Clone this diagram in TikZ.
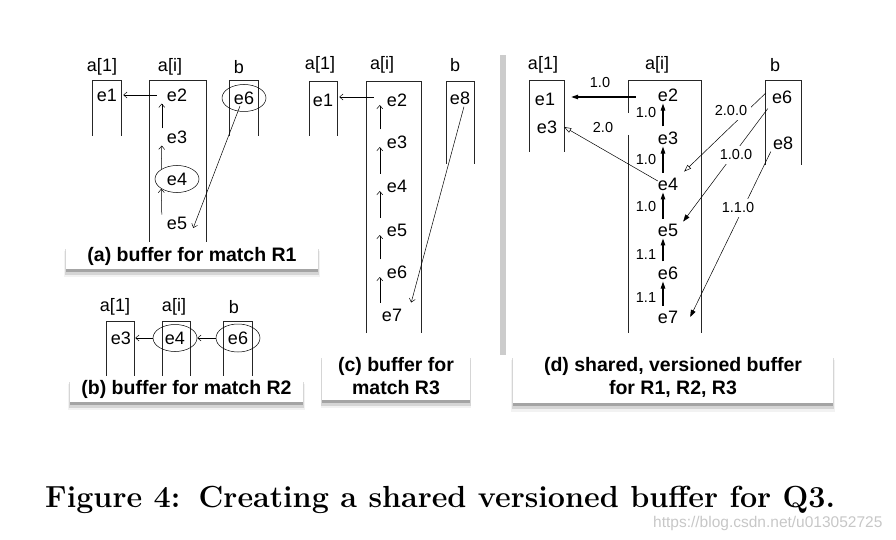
\documentclass[tikz,border=0pt]{standalone}
\usepackage{fontspec}
\newfontfamily\helv{Liberation Sans}
\newfontfamily\helvbold{Liberation Sans Bold}
\usetikzlibrary{arrows.meta,shapes.geometric,shadows}

\tikzset{
  lbl/.style={font=\fontsize{18}{20}\selectfont\helv, inner sep=2pt},
  ver/.style={font=\fontsize{14.5}{16}\selectfont\helv, inner sep=1pt},
  ring/.style={lbl, ellipse, draw, line width=0.5pt, inner sep=0pt, minimum width=44pt, minimum height=27pt},
  col/.style={line width=0.7pt, draw=black!85},
  ptr/.style={-{Straight Barb[length=3.5pt,width=6pt]}, line width=0.5pt},
  fat/.style={-{Triangle[length=7pt,width=4.5pt]}, line width=1.1pt, shorten <=3pt},
  slim/.style={-{Triangle[length=7pt,width=5pt]}, line width=0.5pt},
  hollow/.style={-{Triangle[open,length=7pt,width=5pt]}, line width=0.5pt},
  capbox/.style={fill=white, font=\fontsize{19.5}{23}\selectfont\helvbold, align=center, inner sep=0pt,
    drop shadow={shadow xshift=0pt, shadow yshift=-8pt, shadow scale=1.015, fill=black!10},
    drop shadow={shadow xshift=0pt, shadow yshift=-6pt, shadow scale=1.008, fill=black!28},
    drop shadow={shadow xshift=0pt, shadow yshift=-3pt, fill=black!55}}
}

\begin{document}
\begin{tikzpicture}[x=1pt,y=-1pt]
	\useasboundingbox (0,0) rectangle (896,540);

	% (a) buffer for match R1
	\node[lbl] (al1) at (102,67) {a[1]};
	\node[lbl] (ali) at (170,67) {a[i]};
	\node[lbl] (alb) at (239,67) {b};
	\draw[col] (92,136) |- (121,80) -- (121,136);
	\draw[col] (149,242) |- (206,80) -- (206,242);
	\draw[col] (229,136) |- (258,80) -- (258,136);
	\node[lbl] (ae1) at (107,95) {e1};
	\node[lbl] (ae2) at (177,95) {e2};
	\node[lbl] (ae3) at (177,137) {e3};
	\node[ring] (ae4) at (177,179) {e4};
	\node[lbl] (ae5) at (177,223) {e5};
	\node[ring] (ae6) at (244,98) {e6};
	\draw[ptr] ([xshift=-8pt]ae2.west) -- ([xshift=4pt]ae1.east);
	\draw[ptr] ([xshift=-3pt]ae3.north west) -- ([xshift=-3pt]ae2.south west);
	\draw[ptr] (ae4.north west) -- ([xshift=-3pt]ae3.south west);
	\draw[ptr] ([xshift=-3pt]ae5.north west) -- (ae4.south west);
	\draw[ptr] ([xshift=-4pt,yshift=-8pt]ae6.center) -- ([xshift=4pt,yshift=-5pt]ae5.east);

	% (b) buffer for match R2
	\node[lbl] (bl1) at (115,307) {a[1]};
	\node[lbl] (bli) at (174,307) {a[i]};
	\node[lbl] (blb) at (234,307) {b};
	\draw[col] (106,380) |- (134,321) -- (134,380);
	\draw[col] (162,380) |- (190,321) -- (190,380);
	\draw[col] (223,380) |- (252,321) -- (252,380);
	\node[lbl] (be3) at (121,338) {e3};
	\node[ring] (be4) at (175,338) {e4};
	\node[ring, minimum height=28pt] (be6) at (238,338) {e6};
	\draw[ptr] (be6.west) -- (be4.east);
	\draw[ptr] (be4.west) -- ([xshift=2pt]be3.east);

	% (c) buffer for match R3
	\node[lbl] (cl1) at (320,65) {a[1]};
	\node[lbl] (cli) at (382,65) {a[i]};
	\node[lbl] (clb) at (455,65) {b};
	\draw[col] (309,136) |- (337,81) -- (337,136);
	\draw[col] (366,333) |- (421,81) -- (421,333);
	\draw[col] (446,164) |- (474,81) -- (474,164);
	\node[lbl] (ce1) at (323,100) {e1};
	\node[lbl] (ce2) at (397,100) {e2};
	\node[lbl] (ce3) at (397,142) {e3};
	\node[lbl] (ce4) at (397,186) {e4};
	\node[lbl] (ce5) at (397,230) {e5};
	\node[lbl] (ce6) at (397,272) {e6};
	\node[lbl] (ce7) at (392,315) {e7};
	\node[lbl] (ce8) at (460,98) {e8};
	\draw[ptr] ([xshift=-11pt,yshift=3pt]ce2.west) -- ([xshift=4pt,yshift=3pt]ce1.east);
	\draw[ptr] ([shift={(-5pt,4pt)}]ce3.north west) -- ([shift={(-5pt,-5pt)}]ce2.west);
	\draw[ptr] ([shift={(-5pt,4pt)}]ce4.north west) -- ([shift={(-5pt,-5pt)}]ce3.west);
	\draw[ptr] ([shift={(-5pt,4pt)}]ce5.north west) -- ([shift={(-5pt,-5pt)}]ce4.west);
	\draw[ptr] ([shift={(-5pt,4pt)}]ce6.north west) -- ([shift={(-5pt,-5pt)}]ce5.west);
	\draw[ptr] ([shift={(0pt,4pt)}]ce7.north west) -- ([shift={(-5pt,-5pt)}]ce6.west);
	\draw[ptr] ([xshift=4pt]ce8.south) -- ([xshift=7pt,yshift=4pt]ce7.north east);

	% separator
	\fill[black!20] (500,55) rectangle (506,355);

	% (d) shared, versioned buffer
	\node[lbl] (dl1) at (543,65) {a[1]};
	\node[lbl] (dli) at (657,65) {a[i]};
	\node[lbl] (dlb) at (775,65) {b};
	\draw[col] (529,152) |- (564,80) -- (564,152);
	\draw[col] (628,113) |- (701,80) -- (701,333);
	\draw[col] (628,135) -- (628,333);
	\draw[col] (765,165) |- (801,80) -- (801,165);
	\node[lbl] (d1e1) at (545,99) {e1};
	\node[lbl] (d1e3) at (547,127) {e3};
	\node[lbl] (die2) at (668,95) {e2};
	\node[lbl] (die3) at (668,138) {e3};
	\node[lbl] (die4) at (668,184) {e4};
	\node[lbl] (die5) at (668,230) {e5};
	\node[lbl] (die6) at (668,273) {e6};
	\node[lbl] (die7) at (668,317) {e7};
	\node[lbl] (dbe6) at (782,97) {e6};
	\node[lbl] (dbe8) at (783,143) {e8};
	\draw[fat, shorten <=0pt] ([xshift=-20pt,yshift=-2pt]die2.west) -- ([xshift=14pt,yshift=2pt]d1e1.east);
	\draw[fat] ([xshift=-5pt]die3.north) -- ([xshift=-5pt]die2.south);
	\draw[fat] ([xshift=-5pt]die4.north) -- ([xshift=-5pt]die3.south);
	\draw[fat] ([xshift=-5pt]die5.north) -- ([xshift=-5pt]die4.south);
	\draw[fat] ([xshift=-5pt]die6.north) -- ([xshift=-5pt]die5.south);
	\draw[fat] ([xshift=-5pt]die7.north) -- ([xshift=-5pt]die6.south);
	\draw[hollow] ([xshift=2pt,yshift=3pt]die4.west) -- ([xshift=5pt]d1e3.east);
	\draw[hollow] ([xshift=-4pt,yshift=4pt]dbe6.west) -- ([xshift=4pt,yshift=4pt]die4.north east);
	\draw[slim] ([xshift=-2pt,yshift=-3pt]dbe6.south west) -- ([xshift=3pt]die5.north east);
	\draw[slim] (dbe8.south west) -- ([xshift=10pt]die7.east);
	\node[ver] (v1) at (600,83) {1.0};
	\node[ver] (v2) at (646,113) {1.0};
	\node[ver] (v3) at (646,160) {1.0};
	\node[ver] (v4) at (646,207) {1.0};
	\node[ver] (v5) at (646,255) {1.1};
	\node[ver] (v6) at (646,298) {1.1};
	\node[ver] (v7) at (603,128) {2.0};
	\node[ver, fill=white, inner sep=4pt] (v8) at (731,111) {2.0.0};
	\node[ver, fill=white, inner sep=4pt] (v9) at (736,155) {1.0.0};
	\node[ver, fill=white, inner sep=4pt] (v10) at (738,208) {1.1.0};

	% captions of the four buffers
	\node[capbox, minimum width=252pt, minimum height=25pt] (capa) at (192,256) {(a) buffer for match R1};
	\node[capbox, minimum width=233pt, minimum height=26pt] (capb) at (186.5,389) {(b) buffer for match R2};
	\node[capbox, minimum width=148pt, minimum height=48pt] (capc) at (396,376) {(c) buffer for\\match R3};
	\node[capbox, minimum width=320pt, minimum height=51pt] (capd) at (673,377.5) {(d) shared, versioned buffer\\for R1, R2, R3};

	% figure caption
	\node[anchor=base west, inner sep=0pt, font=\fontsize{30.5}{34}\selectfont\bfseries] (fig) at (45,507) {Figure 4:\hspace{0.6em}Creating a shared versioned buffer for Q3.};
	\node[anchor=base west, inner sep=0pt, text=black!22, font=\fontsize{15.5}{17}\selectfont\helv] (mark) at (653,527) {https://blog.csdn.net/u013052725};
\end{tikzpicture}
\end{document}
